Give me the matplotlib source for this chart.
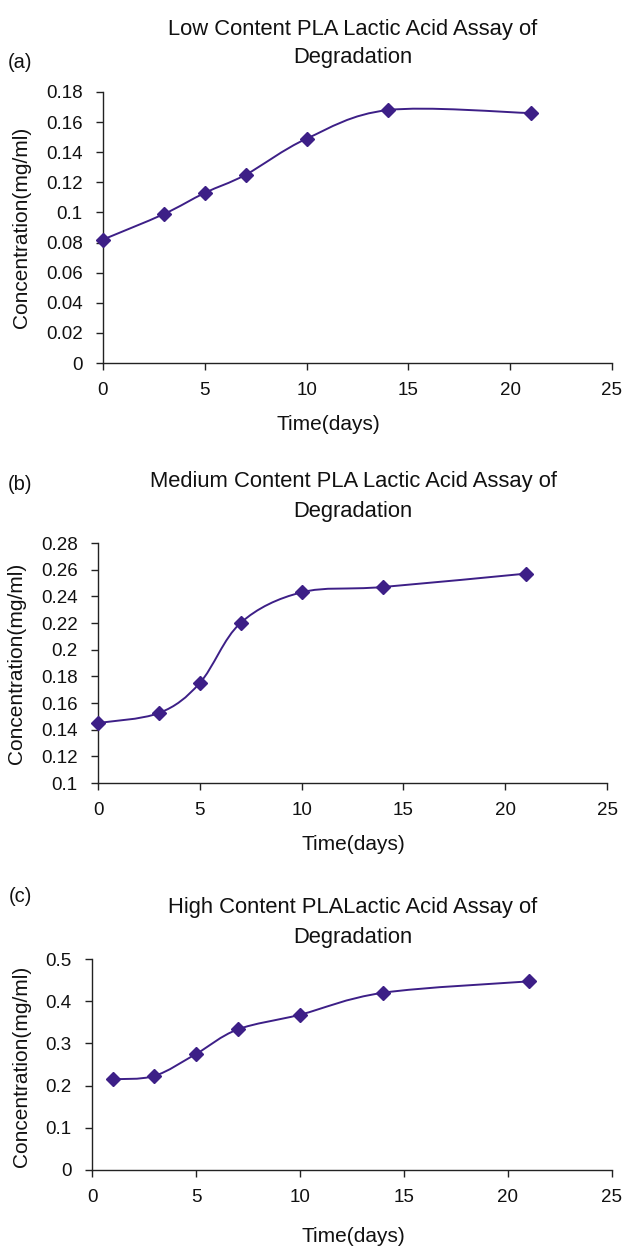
import matplotlib
matplotlib.use("Agg")
import matplotlib.pyplot as plt
from matplotlib.path import Path
from matplotlib.patches import PathPatch
import numpy as np

plt.rcParams['font.family'] = ['Liberation Sans', 'DejaVu Sans']

# ---- data ----
days_low = [0, 3, 5, 7, 10, 14, 21]
conc_low = [0.082, 0.099, 0.113, 0.125, 0.149, 0.168, 0.166]

days_med = [0, 3, 5, 7, 10, 14, 21]
conc_med = [0.145, 0.1525, 0.175, 0.220, 0.243, 0.247, 0.257]

days_high = [1, 3, 5, 7, 10, 14, 21]
conc_high = [0.215, 0.223, 0.275, 0.333, 0.368, 0.420, 0.447]

titles = ["Low Content PLA Lactic Acid Assay of\nDegradation",
          "Medium Content PLA Lactic Acid Assay of\nDegradation",
          "High Content PLALactic Acid Assay of\nDegradation"]
panel_tags = ["(a)", "(b)", "(c)"]
y_limits = [(0, 0.18), (0.1, 0.28), (0, 0.5)]
y_steps = [0.02, 0.02, 0.1]
x_ticks = [0, 5, 10, 15, 20, 25]
x_label = "Time(days)"
y_label = "Concentration(mg/ml)"

COLOR = "#3D1F87"
W, H = 622, 1247
fig = plt.figure(figsize=(W / 100, H / 100), dpi=100)

# axes boxes in pixels: left, right, top, bottom
boxes = [(103, 612, 92, 363), (98, 607, 543, 783), (92, 612, 959, 1170)]
title_y = [(29, 58), (482, 512), (907, 937)]
tag_y = [63, 485, 897]
xlabel_pos = [(328, 424), (353, 845), (353, 1237)]
ylabel_pos = [(22, 227), (17, 663), (22, 1066)]

def smooth_path(x, y):
    # Excel-style smoothed line: cubic Bezier segments (Catmull-Rom tangents)
    pts = np.column_stack([x, y]).astype(float)
    n = len(pts)
    verts = [pts[0]]
    codes = [Path.MOVETO]
    for i in range(n - 1):
        p0 = pts[i - 1] if i > 0 else pts[i]
        p1 = pts[i]
        p2 = pts[i + 1]
        p3 = pts[i + 2] if i + 2 < n else pts[i + 1]
        c1 = p1 + (p2 - p0) / 6.0
        c2 = p2 - (p3 - p1) / 6.0
        verts += [c1, c2, p2]
        codes += [Path.CURVE4] * 3
    return Path(verts, codes)

def fmt(v):
    s = ("%.2f" % v).rstrip('0').rstrip('.')
    return s

series = [(days_low, conc_low), (days_med, conc_med), (days_high, conc_high)]
for k, (xs, ys) in enumerate(series):
    l, r, t, b = boxes[k]
    ax = fig.add_axes([l / W, 1 - b / H, (r - l) / W, (b - t) / H])
    patch = PathPatch(smooth_path(xs, ys), facecolor='none', edgecolor=COLOR,
                      lw=1.4, transform=ax.transData, zorder=2)
    ax.add_patch(patch)
    ax.plot(xs, ys, linestyle='none', marker='D', markersize=7.5,
            color=COLOR, zorder=3, clip_on=False)
    ax.set_xlim(0, 25)
    lo, hi = y_limits[k]
    ax.set_ylim(lo, hi)
    yt = np.round(np.arange(lo, hi + 1e-9, y_steps[k]), 3)
    ax.set_yticks(yt)
    ax.set_yticklabels([fmt(v) for v in yt])
    ax.set_xticks(x_ticks)
    ax.set_xticklabels([str(v) for v in x_ticks])
    for s in ['top', 'right']:
        ax.spines[s].set_visible(False)
    for s in ['left', 'bottom']:
        ax.spines[s].set_linewidth(1.0)
        ax.spines[s].set_color('#222222')
    ax.tick_params(axis='both', direction='out', length=5, width=1.0,
                   color='#222222', labelsize=13.5, labelcolor='#111111')
    ax.tick_params(axis='y', pad=9.5)
    ax.tick_params(axis='x', pad=9)
    ax.patch.set_alpha(0)

    t1, t2 = titles[k].split("\n")
    fig.text(353 / W, 1 - title_y[k][0] / H, t1, ha='center', va='center',
             fontsize=15.8, color='#111111')
    fig.text(353 / W, 1 - title_y[k][1] / H, t2, ha='center', va='center',
             fontsize=15.8, color='#111111')
    fig.text(20 / W, 1 - tag_y[k] / H, panel_tags[k], ha='center', va='center',
             fontsize=14.5, color='#111111')
    fig.text(xlabel_pos[k][0] / W, 1 - xlabel_pos[k][1] / H, x_label,
             ha='center', va='center', fontsize=15, color='#111111')
    fig.text(ylabel_pos[k][0] / W, 1 - ylabel_pos[k][1] / H, y_label,
             ha='center', va='center', rotation=90, fontsize=15,
             color='#111111')

fig.savefig("out.png", dpi=100, facecolor='white')
